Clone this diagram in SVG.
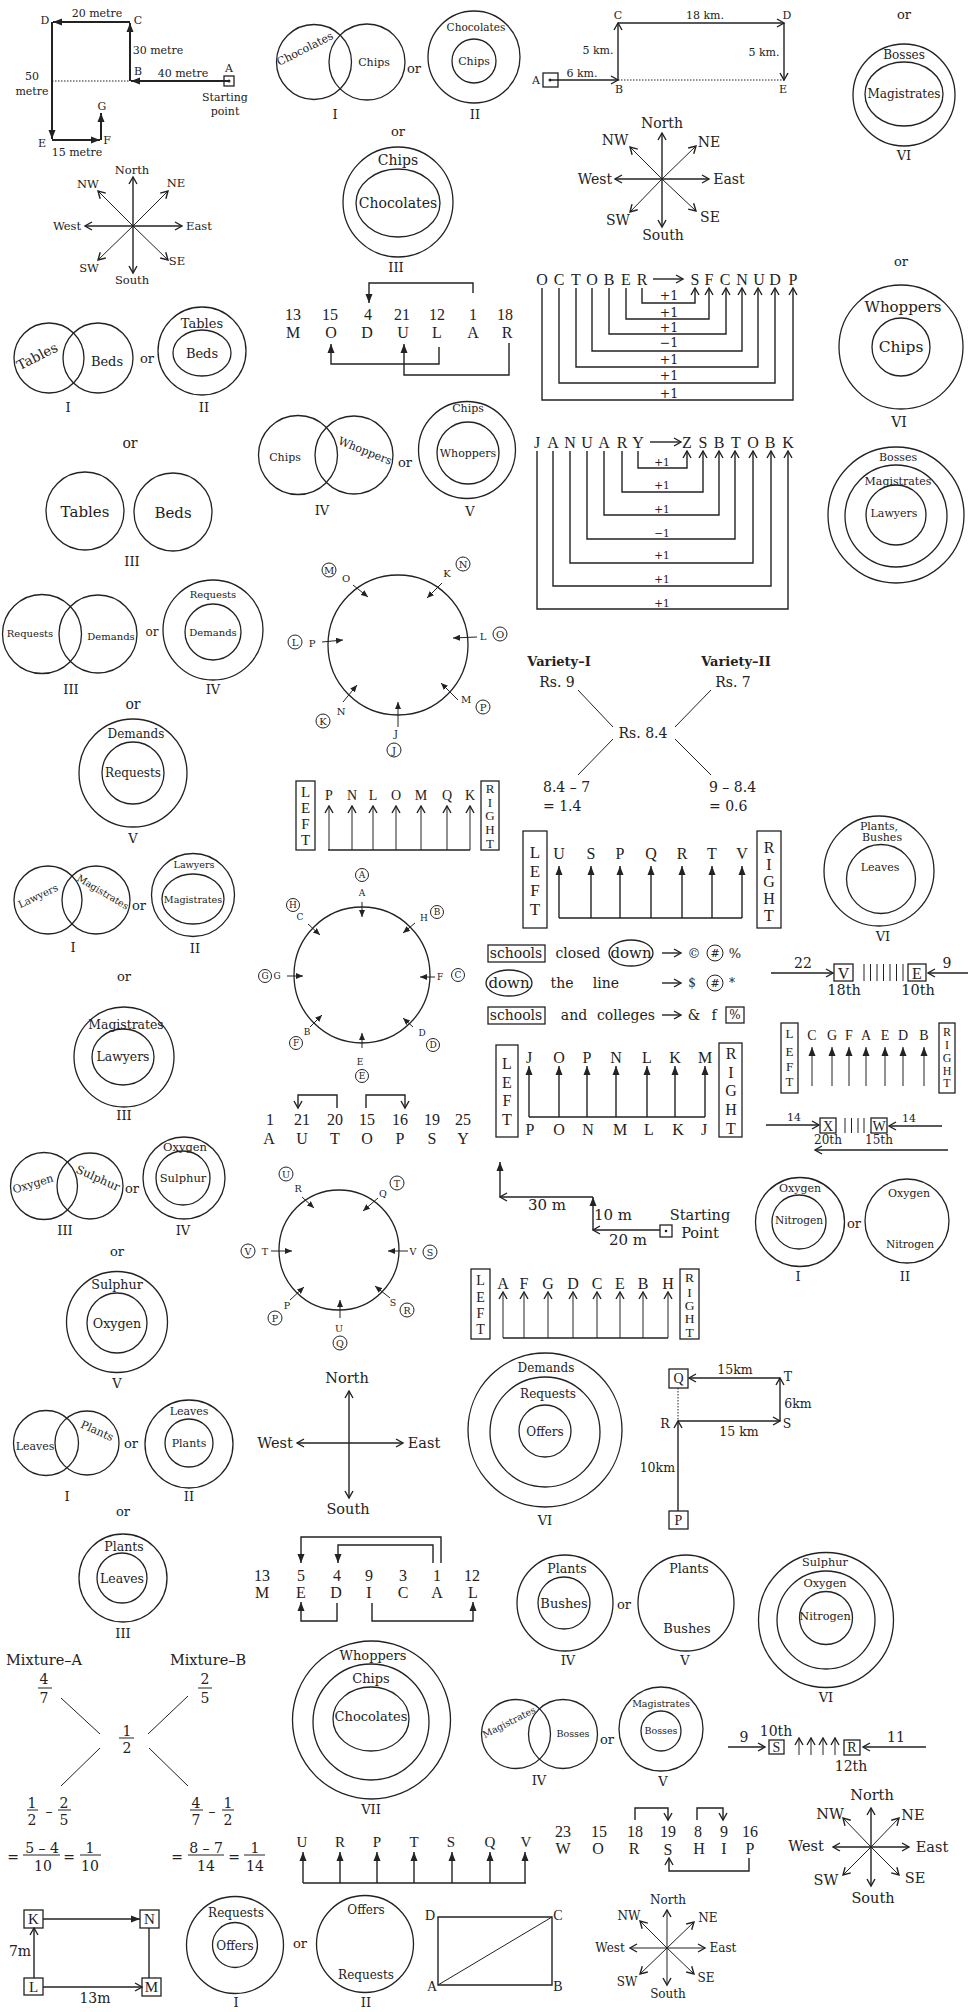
<svg xmlns="http://www.w3.org/2000/svg" width="976" height="2012" viewBox="0 0 976 2012">
<defs>
<style>
text{font-family:"DejaVu Serif",serif;text-anchor:middle;dominant-baseline:central;fill:#222}
.lb{font-family:"Liberation Serif","DejaVu Serif",serif}
.st{text-anchor:start}
.en{text-anchor:end}
.b{font-weight:bold}
.c{fill:none;stroke:#222;stroke-width:1.3}
.cs{fill:none;stroke:#222;stroke-width:1}
.ln{fill:none;stroke:#222;stroke-width:1.4}
.tk{fill:none;stroke:#222;stroke-width:2}
.tn{fill:none;stroke:#222;stroke-width:1}
.dt{fill:none;stroke:#222;stroke-width:1;stroke-dasharray:1.5 1.5}
.dot{fill:#222}
.fa{marker-end:url(#af)}
.fs{marker-end:url(#afs)}
.oa{marker-end:url(#ao)}
</style>
<marker id="af" markerUnits="userSpaceOnUse" markerWidth="10" markerHeight="8" refX="9" refY="4" orient="auto"><path d="M0,0.5 L9,4 L0,7.5 z" fill="#222"/></marker>
<marker id="afs" markerUnits="userSpaceOnUse" markerWidth="8" markerHeight="6" refX="7" refY="3" orient="auto"><path d="M0,0 L7,3 L0,6 z" fill="#222"/></marker>
<marker id="ao" markerUnits="userSpaceOnUse" markerWidth="10" markerHeight="10" refX="8.5" refY="5" orient="auto"><path d="M1.5,1 L8.5,5 L1.5,9" fill="none" stroke="#222" stroke-width="1.4"/></marker>
</defs>
<rect width="976" height="2012" fill="#fff"/>

<g id="route1" font-size="11">
 <g id="route1-connectors">
  <path class="tk fa" d="M229,81 H131"/>
  <path class="tk fa" d="M130,81 V23"/>
  <path class="tk fa" d="M130,22 H53"/>
  <path class="tk fa" d="M52,22 V139"/>
  <path class="tk fa" d="M52,140 H100"/>
  <path class="tk fa" d="M101,140 V113"/>
  <path class="dt" d="M52,81 H130"/>
 </g>
 <rect class="c" x="224" y="76" width="10" height="10"/>
 <circle class="dot" cx="229" cy="81" r="1.5"/>
 <text x="45" y="20">D</text><text x="97" y="13">20 metre</text><text x="138" y="20">C</text>
 <text x="158" y="50">30 metre</text><text x="138" y="71">B</text><text x="183" y="73">40 metre</text>
 <text x="229" y="68">A</text><text x="225" y="97">Starting</text><text x="225" y="111">point</text>
 <text x="32" y="76">50</text><text x="32" y="91">metre</text>
 <text x="42" y="143">E</text><text x="107" y="140">F</text><text x="102" y="106">G</text><text x="77" y="152">15 metre</text>
</g>

<g id="compass1" font-size="11.5">
 <g id="compass1-connectors">
  <path class="ln oa" d="M133,226 V177"/><path class="ln oa" d="M133,226 V273"/>
  <path class="ln oa" d="M133,226 H85"/><path class="ln oa" d="M133,226 H182"/>
  <path class="tn oa" d="M133,226 L98,191"/><path class="tn oa" d="M133,226 L168,191"/>
  <path class="tn oa" d="M133,226 L98,260"/><path class="tn oa" d="M133,226 L168,260"/>
 </g>
 <text x="132" y="170">North</text><text x="132" y="280">South</text><text x="67" y="226">West</text><text x="199" y="226">East</text>
 <text x="88" y="184">NW</text><text x="176" y="183">NE</text><text x="89" y="268">SW</text><text x="177" y="261">SE</text>
</g>

<g id="tables-beds-1" font-size="13">
 <circle class="c" cx="49" cy="358" r="35"/><circle class="c" cx="98" cy="358" r="35"/>
 <text x="37" y="356" font-size="13.5" transform="rotate(-27 37 356)">Tables</text>
 <text x="107" y="361">Beds</text><text x="147" y="358">or</text>
 <circle class="c" cx="202" cy="351" r="44"/><ellipse class="c" cx="202" cy="353" rx="29" ry="23"/>
 <text x="202" y="323">Tables</text><text x="202" y="353">Beds</text>
 <text x="68" y="407">I</text><text x="204" y="407">II</text>
 <text x="130" y="443" font-size="14">or</text>
</g>
<g id="tables-beds-3" font-size="15">
 <circle class="c" cx="85" cy="511" r="39"/><circle class="c" cx="173" cy="512" r="39"/>
 <text x="85" y="512">Tables</text><text x="173" y="513">Beds</text>
 <text x="132" y="561" font-size="13">III</text>
</g>

<g id="choc-chips-1" font-size="11">
 <circle class="c" cx="314" cy="62" r="37.5"/><circle class="c" cx="367" cy="62" r="38"/>
 <text x="305" y="49" transform="rotate(-27 305 49)">Chocolates</text>
 <text x="374" y="62">Chips</text><text x="414" y="68" font-size="13">or</text>
 <circle class="c" cx="474" cy="57" r="46"/><circle class="c" cx="474" cy="61" r="22"/>
 <text x="476" y="27" font-size="10.5">Chocolates</text><text x="474" y="61">Chips</text>
 <text x="335" y="114" font-size="13">I</text><text x="475" y="114" font-size="13">II</text>
 <text x="398" y="131" font-size="13">or</text>
</g>
<g id="choc-chips-3" font-size="14">
 <circle class="c" cx="398" cy="202" r="55"/><ellipse class="c" cx="398" cy="203" rx="42" ry="34"/>
 <text x="398" y="160">Chips</text><text x="398" y="203">Chocolates</text>
 <text x="396" y="267" font-size="13">III</text>
</g>

<g id="numrow1" class="lb" font-size="16">
 <g id="numrow1-connectors">
  <path class="ln fa" d="M473,293 V283 H369 V303"/>
  <path class="ln fa" d="M439,347 V364 H331 V344"/>
  <path class="ln fa" d="M509,343 V375 H404 V344"/>
 </g>
 <text class="lb" x="293" y="314">13</text><text class="lb" x="293" y="332">M</text>
 <text class="lb" x="330" y="314">15</text><text class="lb" x="331" y="332">O</text>
 <text class="lb" x="368" y="314">4</text><text class="lb" x="367" y="332">D</text>
 <text class="lb" x="402" y="314">21</text><text class="lb" x="403" y="332">U</text>
 <text class="lb" x="437" y="314">12</text><text class="lb" x="437" y="332">L</text>
 <text class="lb" x="473" y="314">1</text><text class="lb" x="473" y="332">A</text>
 <text class="lb" x="505" y="314">18</text><text class="lb" x="507" y="332">R</text>
</g>

<g id="chips-whoppers" font-size="11">
 <circle class="c" cx="298" cy="455" r="39.5"/><circle class="c" cx="354" cy="455" r="39"/>
 <text x="285" y="457">Chips</text>
 <text x="365" y="451" transform="rotate(22 365 451)">Whoppers</text>
 <text x="405" y="462" font-size="13">or</text>
 <circle class="c" cx="467" cy="450" r="48.5"/><circle class="c" cx="468" cy="453" r="31"/>
 <text x="468" y="408">Chips</text><text x="468" y="453">Whoppers</text>
 <text x="322" y="510" font-size="13">IV</text><text x="470" y="511" font-size="13">V</text>
</g>

<g id="route2" font-size="11">
 <g id="route2-connectors">
  <path class="ln oa" d="M550,80 H618"/><path class="ln oa" d="M618,80 V23"/>
  <path class="ln oa" d="M618,23 H784"/><path class="ln oa" d="M784,23 V80"/>
  <path class="dt" d="M618,80 H784"/>
 </g>
 <rect class="c" x="543" y="73" width="15" height="14"/><circle class="dot" cx="550" cy="80" r="1.5"/>
 <text x="536" y="80">A</text><text x="582" y="73">6 km.</text><text x="619" y="89">B</text>
 <text x="618" y="15">C</text><text x="598" y="50">5 km.</text><text x="705" y="15">18 km.</text>
 <text x="787" y="15">D</text><text x="764" y="52">5 km.</text><text x="783" y="89">E</text>
</g>

<g id="compass2" font-size="14">
 <g id="compass2-connectors">
  <path class="ln oa" d="M662,179 V133"/><path class="ln oa" d="M662,179 V227"/>
  <path class="ln oa" d="M662,179 H615"/><path class="ln oa" d="M662,179 H709"/>
  <path class="tn oa" d="M662,179 L630,147"/><path class="tn oa" d="M662,179 L696,146"/>
  <path class="tn oa" d="M662,179 L630,212"/><path class="tn oa" d="M662,179 L696,211"/>
 </g>
 <text x="662" y="123">North</text><text x="663" y="235">South</text><text x="595" y="179">West</text><text x="729" y="179">East</text>
 <text x="615" y="140">NW</text><text x="709" y="142">NE</text><text x="618" y="220">SW</text><text x="710" y="217">SE</text>
</g>

<g id="october" font-size="16">
 <g id="october-connectors">
  <path class="ln oa" d="M653,279 H683"/>
  <path class="ln oa" d="M642,288 V303 H695 V288"/>
  <path class="ln oa" d="M626,288 V319 H709 V288"/>
  <path class="ln oa" d="M609,288 V334 H726 V288"/>
  <path class="ln oa" d="M592,288 V351 H742 V288"/>
  <path class="ln oa" d="M576,288 V367 H758 V288"/>
  <path class="ln oa" d="M559,288 V383 H775 V288"/>
  <path class="ln oa" d="M542,288 V400 H793 V288"/>
 </g>
 <text class="lb" x="542" y="279">O</text><text class="lb" x="559" y="279">C</text><text class="lb" x="576" y="279">T</text><text class="lb" x="592" y="279">O</text><text class="lb" x="609" y="279">B</text><text class="lb" x="626" y="279">E</text><text class="lb" x="642" y="279">R</text>
 <text class="lb" x="695" y="279">S</text><text class="lb" x="709" y="279">F</text><text class="lb" x="725" y="279">C</text><text class="lb" x="742" y="279">N</text><text class="lb" x="759" y="279">U</text><text class="lb" x="775" y="279">D</text><text class="lb" x="793" y="279">P</text>
 <g font-size="12.5"><text x="669" y="295">+1</text><text x="669" y="312">+1</text><text x="669" y="327">+1</text><text x="669" y="342">−1</text><text x="669" y="359">+1</text><text x="669" y="375">+1</text><text x="669" y="393">+1</text></g>
</g>

<g id="january" font-size="16">
 <g id="january-connectors">
  <path class="ln oa" d="M650,442 H681"/>
  <path class="ln oa" d="M638,451 V468 H687 V451"/>
  <path class="ln oa" d="M622,451 V492 H703 V451"/>
  <path class="ln oa" d="M604,451 V515 H719 V451"/>
  <path class="ln oa" d="M587,451 V539 H735 V451"/>
  <path class="ln oa" d="M570,451 V563 H753 V451"/>
  <path class="ln oa" d="M553,451 V586 H771 V451"/>
  <path class="ln oa" d="M537,451 V609 H788 V451"/>
 </g>
 <text class="lb" x="537" y="442">J</text><text class="lb" x="553" y="442">A</text><text class="lb" x="570" y="442">N</text><text class="lb" x="587" y="442">U</text><text class="lb" x="604" y="442">A</text><text class="lb" x="622" y="442">R</text><text class="lb" x="638" y="442">Y</text>
 <text class="lb" x="687" y="442">Z</text><text class="lb" x="703" y="442">S</text><text class="lb" x="719" y="442">B</text><text class="lb" x="736" y="442">T</text><text class="lb" x="753" y="442">O</text><text class="lb" x="770" y="442">B</text><text class="lb" x="788" y="442">K</text>
 <g font-size="10.5"><text x="662" y="462">+1</text><text x="662" y="485">+1</text><text x="662" y="509">+1</text><text x="662" y="533">−1</text><text x="662" y="555">+1</text><text x="662" y="579">+1</text><text x="662" y="603">+1</text></g>
</g>

<g id="bosses-mag-6" font-size="12">
 <text x="904" y="14" font-size="13">or</text>
 <circle class="c" cx="904" cy="95" r="51"/><ellipse class="c" cx="904" cy="94" rx="39" ry="32"/>
 <text x="904" y="55">Bosses</text><text x="904" y="94">Magistrates</text>
 <text x="904" y="155" font-size="13">VI</text>
 <text x="901" y="261" font-size="13">or</text>
</g>
<g id="whoppers-chips-6">
 <circle class="c" cx="901" cy="347" r="62"/><circle class="c" cx="901" cy="347" r="29"/>
 <text x="903" y="307" font-size="15">Whoppers</text><text x="901" y="347" font-size="15.5">Chips</text>
 <text x="899" y="422" font-size="14">VI</text>
</g>
<g id="bml" font-size="11">
 <circle class="c" cx="896" cy="515" r="68"/><circle class="c" cx="896" cy="516" r="51"/><circle class="c" cx="896" cy="515" r="30"/>
 <text x="898" y="457">Bosses</text><text x="898" y="481">Magistrates</text><text x="894" y="513">Lawyers</text>
</g>

<g id="req-dem" font-size="10">
 <circle class="c" cx="42" cy="634" r="39.5"/><circle class="c" cx="98" cy="634" r="39"/>
 <text x="30" y="633">Requests</text><text x="111" y="636">Demands</text><text x="152" y="632" font-size="12">or</text>
 <circle class="c" cx="213" cy="630" r="50"/><circle class="c" cx="213" cy="632" r="28"/>
 <text x="213" y="594">Requests</text><text x="213" y="632">Demands</text>
 <text x="71" y="689" font-size="13">III</text><text x="213" y="689" font-size="13">IV</text>
 <text x="133" y="704" font-size="14">or</text>
</g>
<g id="dem-req-5" font-size="12">
 <circle class="c" cx="133" cy="773" r="54"/><circle class="c" cx="133" cy="773" r="31"/>
 <text x="136" y="734">Demands</text><text x="133" y="773">Requests</text>
 <text x="133" y="838" font-size="13">V</text>
</g>
<g id="law-mag" font-size="9.6">
 <circle class="c" cx="48" cy="900" r="34"/><circle class="c" cx="96" cy="900" r="34"/>
 <text x="38" y="896" font-size="10" transform="rotate(-25 38 896)">Lawyers</text>
 <text x="103" y="892" transform="rotate(31 103 892)">Magistrates</text>
 <text x="139" y="905" font-size="13">or</text>
 <circle class="c" cx="193" cy="895" r="41.5"/><ellipse class="c" cx="193" cy="899" rx="31" ry="25"/>
 <text x="194" y="864">Lawyers</text><text x="193" y="899">Magistrates</text>
 <text x="73" y="947" font-size="13">I</text><text x="195" y="948" font-size="13">II</text>
 <text x="124" y="976" font-size="13">or</text>
</g>
<g id="mag-law-3" font-size="12.4">
 <circle class="c" cx="124" cy="1057" r="50"/><ellipse class="c" cx="123" cy="1057" rx="31" ry="28"/>
 <text x="126" y="1024">Magistrates</text><text x="123" y="1056">Lawyers</text>
 <text x="124" y="1115" font-size="13">III</text>
</g>

<g id="circle-puzzle1" font-size="10">
 <circle class="c" cx="398" cy="645" r="70"/>
 <g id="cp1-connectors">
  <path class="tn fs" d="M353,585 L368,597"/><path class="tn fs" d="M442,583 L427,598"/>
  <path class="tn fs" d="M477,637 L453,638"/><path class="tn fs" d="M322,642 L343,640"/>
  <path class="tn fs" d="M458,700 L441,683"/><path class="tn fs" d="M343,702 L357,685"/>
  <path class="tn fs" d="M398,727 L398,702"/>
 </g>
 <circle class="cs" cx="329" cy="570" r="7"/><text x="329" y="570">M</text><text x="346" y="578">O</text>
 <circle class="cs" cx="463" cy="564" r="7"/><text x="463" y="564">N</text><text x="447" y="573">K</text>
 <circle class="cs" cx="500" cy="634" r="7"/><text x="500" y="634">O</text><text x="483" y="636">L</text>
 <circle class="cs" cx="295" cy="642" r="7"/><text x="295" y="642">L</text><text x="312" y="643">P</text>
 <circle class="cs" cx="483" cy="707" r="7"/><text x="483" y="707">P</text><text x="466" y="699">M</text>
 <circle class="cs" cx="323" cy="721" r="7"/><text x="323" y="721">K</text><text x="341" y="711">N</text>
 <circle class="cs" cx="394" cy="750" r="7"/><text x="394" y="750">J</text><text x="396" y="733">J</text>
</g>

<g id="lr1" font-size="14">
 <g id="lr1-connectors">
  <path class="ln" d="M328,850 H470"/>
  <path class="tn oa" d="M329,850 V806"/><path class="tn oa" d="M352,850 V806"/><path class="tn oa" d="M373,850 V806"/><path class="tn oa" d="M396,850 V806"/><path class="tn oa" d="M421,850 V806"/><path class="tn oa" d="M447,850 V806"/><path class="tn oa" d="M470,850 V806"/>
 </g>
 <rect class="c" x="296" y="781" width="19" height="69"/>
 <g font-size="15"><text class="lb" x="305.5" y="792">L</text><text class="lb" x="305.5" y="808">E</text><text class="lb" x="305.5" y="824">F</text><text class="lb" x="305.5" y="840">T</text></g>
 <text class="lb" x="329" y="795">P</text><text class="lb" x="352" y="795">N</text><text class="lb" x="373" y="795">L</text><text class="lb" x="396" y="795">O</text><text class="lb" x="421" y="795">M</text><text class="lb" x="447" y="795">Q</text><text class="lb" x="470" y="795">K</text>
 <rect class="c" x="481" y="781" width="18" height="69"/>
 <g font-size="13"><text class="lb" x="490" y="788">R</text><text class="lb" x="490" y="802">I</text><text class="lb" x="490" y="815">G</text><text class="lb" x="490" y="829">H</text><text class="lb" x="490" y="843">T</text></g>
</g>

<g id="circle-puzzle2" font-size="9">
 <circle class="c" cx="362" cy="975" r="68"/>
 <g id="cp2-connectors">
  <path class="tn fs" d="M362,902 V917"/><path class="tn fs" d="M415,923 L403,933"/>
  <path class="tn fs" d="M435,977 H420"/><path class="tn fs" d="M308,924 L320,935"/>
  <path class="tn fs" d="M287,976 H303"/><path class="tn fs" d="M310,1027 L322,1015"/>
  <path class="tn fs" d="M413,1027 L403,1018"/><path class="tn fs" d="M362,1048 V1033"/>
 </g>
 <circle class="cs" cx="362" cy="875" r="6.5"/><text x="362" y="875">A</text><text x="362" y="893">A</text>
 <circle class="cs" cx="437" cy="912" r="6.5"/><text x="437" y="912">B</text><text x="424" y="918">H</text>
 <circle class="cs" cx="458" cy="975" r="6.5"/><text x="458" y="975">C</text><text x="440" y="977">F</text>
 <circle class="cs" cx="293" cy="905" r="6.5"/><text x="293" y="905">H</text><text x="300" y="917">C</text>
 <circle class="cs" cx="265" cy="976" r="6.5"/><text x="265" y="976">G</text><text x="277" y="976">G</text>
 <circle class="cs" cx="296" cy="1043" r="6.5"/><text x="296" y="1043">F</text><text x="307" y="1032">B</text>
 <circle class="cs" cx="433" cy="1045" r="6.5"/><text x="433" y="1045">D</text><text x="422" y="1033">D</text>
 <circle class="cs" cx="362" cy="1076" r="6.5"/><text x="362" y="1076">E</text><text x="360" y="1062">E</text>
</g>

<g id="numrow2" font-size="16">
 <g id="numrow2-connectors">
  <path class="ln oa" d="M337,1108 V1095 H298 V1108"/>
  <path class="ln oa" d="M366,1108 V1095 H405 V1108"/>
 </g>
 <text class="lb" x="270" y="1119">1</text><text class="lb" x="269" y="1138">A</text>
 <text class="lb" x="302" y="1119">21</text><text class="lb" x="302" y="1138">U</text>
 <text class="lb" x="335" y="1119">20</text><text class="lb" x="335" y="1138">T</text>
 <text class="lb" x="367" y="1119">15</text><text class="lb" x="367" y="1138">O</text>
 <text class="lb" x="400" y="1119">16</text><text class="lb" x="400" y="1138">P</text>
 <text class="lb" x="432" y="1119">19</text><text class="lb" x="432" y="1138">S</text>
 <text class="lb" x="463" y="1119">25</text><text class="lb" x="463" y="1138">Y</text>
</g>

<g id="circle-puzzle3" font-size="9.5">
 <circle class="c" cx="339" cy="1250" r="60"/>
 <g id="cp3-connectors">
  <path class="tn fs" d="M302,1197 L314,1208"/><path class="tn fs" d="M378,1198 L363,1211"/>
  <path class="tn fs" d="M271,1251 H292"/><path class="tn fs" d="M408,1251 H388"/>
  <path class="tn fs" d="M290,1300 L304,1287"/><path class="tn fs" d="M390,1298 L375,1286"/>
  <path class="tn fs" d="M340,1318 V1300"/>
 </g>
 <circle class="cs" cx="286" cy="1174" r="7"/><text x="286" y="1174">U</text><text x="298" y="1188">R</text>
 <circle class="cs" cx="397" cy="1183" r="7"/><text x="397" y="1183">T</text><text x="383" y="1193">Q</text>
 <circle class="cs" cx="248" cy="1251" r="7"/><text x="248" y="1251">V</text><text x="265" y="1251">T</text>
 <circle class="cs" cx="430" cy="1252" r="7"/><text x="430" y="1252">S</text><text x="413" y="1251">V</text>
 <circle class="cs" cx="275" cy="1318" r="7"/><text x="275" y="1318">P</text><text x="287" y="1305">P</text>
 <circle class="cs" cx="407" cy="1310" r="7"/><text x="407" y="1310">R</text><text x="393" y="1302">S</text>
 <circle class="cs" cx="340" cy="1343" r="7"/><text x="340" y="1343">Q</text><text x="339" y="1328">U</text>
</g>

<g id="oxy-sul" font-size="11.5">
 <circle class="c" cx="44" cy="1186" r="33.5"/><circle class="c" cx="90" cy="1186" r="33"/>
 <text x="33" y="1184" font-size="11" transform="rotate(-17 33 1184)">Oxygen</text>
 <text x="98" y="1178" transform="rotate(24 98 1178)">Sulphur</text>
 <text x="132" y="1188" font-size="13">or</text>
 <circle class="c" cx="184" cy="1178" r="41"/><circle class="c" cx="183" cy="1178" r="27"/>
 <text x="185" y="1147">Oxygen</text><text x="183" y="1178">Sulphur</text>
 <text x="65" y="1230" font-size="13">III</text><text x="183" y="1230" font-size="13">IV</text>
 <text x="117" y="1251" font-size="13">or</text>
</g>
<g id="sul-oxy-5" font-size="12.7">
 <circle class="c" cx="117" cy="1322" r="50.5"/><circle class="c" cx="117" cy="1323" r="30"/>
 <text x="117" y="1284">Sulphur</text><text x="117" y="1323">Oxygen</text>
 <text x="117" y="1383" font-size="13">V</text>
</g>
<g id="leaves-plants" font-size="11">
 <circle class="c" cx="46" cy="1443" r="32.5"/><circle class="c" cx="87" cy="1443" r="32"/>
 <text x="35" y="1446">Leaves</text>
 <text x="97" y="1431" transform="rotate(24 97 1431)">Plants</text>
 <text x="131" y="1443" font-size="13">or</text>
 <circle class="c" cx="189" cy="1444" r="44"/><circle class="c" cx="189" cy="1443" r="24"/>
 <text x="189" y="1411">Leaves</text><text x="189" y="1443">Plants</text>
 <text x="67" y="1496" font-size="13">I</text><text x="189" y="1496" font-size="13">II</text>
 <text x="123" y="1511" font-size="13">or</text>
</g>
<g id="plants-leaves-3" font-size="12.5">
 <circle class="c" cx="123" cy="1578" r="44"/><circle class="c" cx="122" cy="1578" r="25"/>
 <text x="124" y="1546">Plants</text><text x="122" y="1578">Leaves</text>
 <text x="123" y="1633" font-size="13">III</text>
</g>

<g id="compass3" font-size="14.5">
 <g id="compass3-connectors">
  <path class="ln oa" d="M349,1443 V1391"/><path class="ln oa" d="M349,1443 V1498"/>
  <path class="ln oa" d="M349,1443 H297"/><path class="ln oa" d="M349,1443 H403"/>
 </g>
 <text x="347" y="1378">North</text><text x="348" y="1509">South</text><text x="275" y="1443">West</text><text x="424" y="1443">East</text>
</g>

<g id="numrow3" font-size="16">
 <g id="numrow3-connectors">
  <path class="ln fa" d="M441,1563 V1537 H301 V1563"/>
  <path class="ln fa" d="M433,1563 V1545 H338 V1563"/>
  <path class="ln fa" d="M337,1603 V1621 H301 V1602"/>
  <path class="ln fa" d="M372,1603 V1621 H473 V1602"/>
 </g>
 <text class="lb" x="262" y="1575">13</text><text class="lb" x="262" y="1592">M</text>
 <text class="lb" x="301" y="1575">5</text><text class="lb" x="301" y="1592">E</text>
 <text class="lb" x="337" y="1575">4</text><text class="lb" x="336" y="1592">D</text>
 <text class="lb" x="369" y="1575">9</text><text class="lb" x="369" y="1592">I</text>
 <text class="lb" x="403" y="1575">3</text><text class="lb" x="403" y="1592">C</text>
 <text class="lb" x="437" y="1575">1</text><text class="lb" x="437" y="1592">A</text>
 <text class="lb" x="472" y="1575">12</text><text class="lb" x="473" y="1592">L</text>
</g>

<g id="alligation" font-size="14">
 <g id="alligation-connectors">
  <path class="tn" d="M578,690 L613,727"/><path class="tn" d="M613,739 L578,775"/>
  <path class="tn" d="M711,690 L675,727"/><path class="tn" d="M675,739 L711,775"/>
 </g>
 <text class="b" x="559" y="661" font-size="13">Variety–I</text><text x="557" y="682">Rs. 9</text>
 <text x="643" y="733">Rs. 8.4</text>
 <text class="st" x="543" y="787">8.4 – 7</text><text class="st" x="543" y="806">= 1.4</text>
 <text class="b" x="736" y="661" font-size="13">Variety–II</text><text x="733" y="682">Rs. 7</text>
 <text class="st" x="709" y="787">9 – 8.4</text><text class="st" x="709" y="806">= 0.6</text>
</g>

<g id="lr2" font-size="16">
 <g id="lr2-connectors">
  <path class="ln" d="M559,918 H742"/>
  <path class="ln fa" d="M559,918 V866"/><path class="ln fa" d="M591,918 V866"/><path class="ln fa" d="M620,918 V866"/><path class="ln fa" d="M651,918 V866"/><path class="ln fa" d="M682,918 V866"/><path class="ln fa" d="M712,918 V866"/><path class="ln fa" d="M742,918 V866"/>
 </g>
 <rect class="c" x="523" y="831" width="24" height="97"/>
 <g font-size="17"><text class="lb" x="535" y="852">L</text><text class="lb" x="535" y="871">E</text><text class="lb" x="535" y="890">F</text><text class="lb" x="535" y="909">T</text></g>
 <text class="lb" x="559" y="853">U</text><text class="lb" x="591" y="853">S</text><text class="lb" x="620" y="853">P</text><text class="lb" x="651" y="853">Q</text><text class="lb" x="682" y="853">R</text><text class="lb" x="712" y="853">T</text><text class="lb" x="742" y="853">V</text>
 <rect class="c" x="757" y="831" width="24" height="97"/>
 <text class="lb" x="769" y="847">R</text><text class="lb" x="769" y="864">I</text><text class="lb" x="769" y="881">G</text><text class="lb" x="769" y="898">H</text><text class="lb" x="769" y="915">T</text>
</g>

<g id="schools" font-size="14">
 <g id="schools-connectors">
  <path class="ln oa" d="M662,953 H681"/><path class="ln oa" d="M662,983 H681"/><path class="ln oa" d="M662,1015 H681"/>
 </g>
 <rect class="c" x="488" y="945" width="57" height="17"/><text x="516" y="953">schools</text>
 <text x="578" y="953">closed</text>
 <ellipse class="c" cx="631" cy="953" rx="22" ry="13"/><text x="631" y="953" font-size="15">down</text>
 <text x="694" y="953" font-size="13">©</text>
 <circle class="cs" cx="715" cy="953" r="8"/><text x="715" y="953" font-size="11">#</text>
 <text x="735" y="953" font-size="13">%</text>
 <ellipse class="c" cx="509" cy="983" rx="23" ry="13"/><text x="509" y="983" font-size="15">down</text>
 <text x="562" y="983">the</text><text x="606" y="983">line</text>
 <text x="692" y="983" font-size="12">$</text>
 <circle class="cs" cx="715" cy="983" r="8"/><text x="715" y="983" font-size="11">#</text>
 <text x="732" y="983" font-size="12">*</text>
 <rect class="c" x="488" y="1007" width="57" height="17"/><text x="516" y="1015">schools</text>
 <text x="574" y="1015">and</text><text x="626" y="1015">colleges</text>
 <text x="694" y="1015">&amp;</text><text x="714" y="1015">f</text>
 <rect class="c" x="726" y="1007" width="18" height="16"/><text x="735" y="1015" font-size="12">%</text>
</g>

<g id="queue1" font-size="14">
 <g id="queue1-connectors">
  <path class="ln oa" d="M771,973 H833"/><path class="ln oa" d="M968,973 H928"/>
  <path class="tn" d="M864,964 V981 M870.5,964 V981 M877,964 V981 M883.5,964 V981 M890,964 V981 M896.5,964 V981 M903,964 V981"/>
 </g>
 <text x="803" y="963">22</text>
 <rect class="c" x="834" y="964" width="19" height="17"/><text class="lb" x="843.5" y="973" font-size="16">V</text>
 <rect class="c" x="908" y="964" width="18" height="17"/><text class="lb" x="917" y="973" font-size="16">E</text>
 <text x="947" y="963">9</text>
 <text x="844" y="990" font-size="14.5">18th</text><text x="918" y="990" font-size="14.5">10th</text>
</g>

<g id="plants-leaves-6" font-size="11">
 <circle class="c" cx="879" cy="871" r="55"/><circle class="c" cx="881" cy="879" r="34.5"/>
 <text x="879" y="826">Plants,</text><text x="882" y="837">Bushes</text><text x="880" y="867">Leaves</text>
 <text x="883" y="936" font-size="13">VI</text>
</g>

<g id="lr3" font-size="14">
 <g id="lr3-connectors">
  <path class="tn fa" d="M812,1086 V1047"/><path class="tn fa" d="M832,1086 V1047"/><path class="tn fa" d="M849,1086 V1047"/><path class="tn fa" d="M866,1086 V1047"/><path class="tn fa" d="M885,1086 V1047"/><path class="tn fa" d="M903,1086 V1047"/><path class="tn fa" d="M924,1086 V1047"/>
 </g>
 <rect class="c" x="781" y="1023" width="17" height="70"/>
 <g font-size="13"><text class="lb" x="789.5" y="1033">L</text><text class="lb" x="789.5" y="1051">E</text><text class="lb" x="789.5" y="1066">F</text><text class="lb" x="789.5" y="1081">T</text></g>
 <text class="lb" x="812" y="1035">C</text><text class="lb" x="832" y="1035">G</text><text class="lb" x="849" y="1035">F</text><text class="lb" x="866" y="1035">A</text><text class="lb" x="885" y="1035">E</text><text class="lb" x="903" y="1035">D</text><text class="lb" x="924" y="1035">B</text>
 <rect class="c" x="939" y="1023" width="16" height="70"/>
 <g font-size="12"><text class="lb" x="947" y="1032">R</text><text class="lb" x="947" y="1045">I</text><text class="lb" x="947" y="1058">G</text><text class="lb" x="947" y="1071">H</text><text class="lb" x="947" y="1083">T</text></g>
</g>

<g id="queue2" font-size="11">
 <g id="queue2-connectors">
  <path class="ln oa" d="M766,1125 H819"/><path class="ln oa" d="M942,1126 H889"/><path class="ln oa" d="M948,1150 H815"/>
  <path class="tn" d="M845,1118 V1133 M851.5,1118 V1133 M858,1118 V1133 M864,1118 V1133"/>
 </g>
 <text x="794" y="1117">14</text>
 <rect class="c" x="820" y="1118" width="16" height="15"/><text class="lb" x="828" y="1126" font-size="14">X</text>
 <rect class="c" x="871" y="1118" width="16" height="15"/><text class="lb" x="879" y="1126" font-size="14">W</text>
 <text x="909" y="1118">14</text>
 <text x="828" y="1140" font-size="12">20th</text><text x="879" y="1140" font-size="12">15th</text>
</g>

<g id="lr4" font-size="16">
 <g id="lr4-connectors">
  <path class="ln" d="M529,1117 H705"/>
  <path class="ln fa" d="M529,1117 V1066"/><path class="ln fa" d="M559,1117 V1066"/><path class="ln fa" d="M587,1117 V1066"/><path class="ln fa" d="M616,1117 V1066"/><path class="ln fa" d="M647,1117 V1066"/><path class="ln fa" d="M675,1117 V1066"/><path class="ln fa" d="M705,1117 V1066"/>
 </g>
 <rect class="c" x="496" y="1045" width="22" height="92"/>
 <text class="lb" x="507" y="1063">L</text><text class="lb" x="507" y="1082">E</text><text class="lb" x="507" y="1100">F</text><text class="lb" x="507" y="1119">T</text>
 <text class="lb" x="529" y="1057">J</text><text class="lb" x="559" y="1057">O</text><text class="lb" x="587" y="1057">P</text><text class="lb" x="616" y="1057">N</text><text class="lb" x="647" y="1057">L</text><text class="lb" x="675" y="1057">K</text><text class="lb" x="705" y="1057">M</text>
 <text class="lb" x="530" y="1129">P</text><text class="lb" x="559" y="1129">O</text><text class="lb" x="588" y="1129">N</text><text class="lb" x="620" y="1129">M</text><text class="lb" x="649" y="1129">L</text><text class="lb" x="678" y="1129">K</text><text class="lb" x="704" y="1129">J</text>
 <rect class="c" x="719" y="1043" width="23" height="94"/>
 <text class="lb" x="731" y="1053">R</text><text class="lb" x="731" y="1072">I</text><text class="lb" x="731" y="1090">G</text><text class="lb" x="731" y="1109">H</text><text class="lb" x="731" y="1128">T</text>
</g>

<g id="route3" font-size="15">
 <g id="route3-connectors">
  <path class="ln oa" d="M660,1230 H593"/><path class="ln fa" d="M593,1230 V1197"/>
  <path class="ln oa" d="M593,1197 H500"/><path class="ln fa" d="M500,1197 V1162"/>
 </g>
 <rect class="c" x="660" y="1225" width="12" height="12"/><circle class="dot" cx="666" cy="1231" r="1.3"/>
 <text x="700" y="1215" font-size="14.5">Starting</text><text x="700" y="1233" font-size="14.5">Point</text>
 <text x="628" y="1240">20 m</text><text x="613" y="1215">10 m</text><text x="547" y="1205">30 m</text>
</g>

<g id="lr5" font-size="16">
 <g id="lr5-connectors">
  <path class="ln" d="M503,1338 H668"/>
  <path class="tn oa" d="M503,1338 V1292"/><path class="tn oa" d="M524,1338 V1292"/><path class="tn oa" d="M548,1338 V1292"/><path class="tn oa" d="M573,1338 V1292"/><path class="tn oa" d="M597,1338 V1292"/><path class="tn oa" d="M620,1338 V1292"/><path class="tn oa" d="M643,1338 V1292"/><path class="tn oa" d="M668,1338 V1292"/>
 </g>
 <rect class="c" x="471" y="1269" width="19" height="70"/>
 <g font-size="14"><text class="lb" x="480.5" y="1280">L</text><text class="lb" x="480.5" y="1297">E</text><text class="lb" x="480.5" y="1313">F</text><text class="lb" x="480.5" y="1329">T</text></g>
 <text class="lb" x="503" y="1283">A</text><text class="lb" x="524" y="1283">F</text><text class="lb" x="548" y="1283">G</text><text class="lb" x="573" y="1283">D</text><text class="lb" x="597" y="1283">C</text><text class="lb" x="620" y="1283">E</text><text class="lb" x="643" y="1283">B</text><text class="lb" x="668" y="1283">H</text>
 <rect class="c" x="680" y="1269" width="19" height="70"/>
 <g font-size="13.5"><text class="lb" x="689.5" y="1277">R</text><text class="lb" x="689.5" y="1292">I</text><text class="lb" x="689.5" y="1305">G</text><text class="lb" x="689.5" y="1318">H</text><text class="lb" x="689.5" y="1332">T</text></g>
</g>

<g id="oxy-nit" font-size="11">
 <circle class="c" cx="800" cy="1222" r="44.5"/><circle class="c" cx="799" cy="1222" r="27"/>
 <text x="800" y="1188">Oxygen</text><text x="799" y="1220" font-size="10.6">Nitrogen</text>
 <text x="854" y="1223" font-size="13">or</text>
 <circle class="c" cx="907" cy="1221" r="42"/>
 <text x="909" y="1193">Oxygen</text><text x="910" y="1244" font-size="10.6">Nitrogen</text>
 <text x="798" y="1276" font-size="13">I</text><text x="905" y="1276" font-size="13">II</text>
</g>

<g id="dro-6" font-size="12">
 <circle class="c" cx="545" cy="1430" r="77"/><circle class="c" cx="545" cy="1432" r="55"/><circle class="c" cx="545" cy="1431" r="26"/>
 <text x="546" y="1368">Demands</text><text x="548" y="1394">Requests</text><text x="545" y="1432">Offers</text>
 <text x="545" y="1520" font-size="13">VI</text>
</g>

<g id="route4" font-size="12.5">
 <g id="route4-connectors">
  <path class="ln oa" d="M780,1378 H689"/><path class="ln oa" d="M780,1421 V1378"/>
  <path class="ln oa" d="M678,1421 H780"/><path class="ln oa" d="M678,1511 V1421"/>
  <path class="dt" d="M678,1388 V1421"/>
 </g>
 <rect class="c" x="669" y="1369" width="19" height="19"/><text class="lb" x="678.5" y="1378" font-size="14">Q</text>
 <text x="735" y="1369">15km</text><text x="788" y="1376">T</text><text x="798" y="1403">6km</text>
 <text x="787" y="1423">S</text><text x="739" y="1431">15 km</text><text x="665" y="1423">R</text>
 <text class="en" x="675" y="1467">10km</text>
 <rect class="c" x="669" y="1511" width="19" height="18"/><text class="lb" x="678.5" y="1520" font-size="14">P</text>
</g>

<g id="mixture" font-size="14">
 <g id="mixture-connectors">
  <path class="tn" d="M61,1698 L100,1734"/><path class="tn" d="M148,1734 L188,1696"/>
  <path class="tn" d="M100,1748 L61,1786"/><path class="tn" d="M149,1748 L188,1786"/>
 </g>
 <text x="44" y="1660" font-size="14.5">Mixture–A</text><text x="208" y="1660" font-size="14.5">Mixture–B</text>
 <g class="frac">
  <text x="44" y="1679">4</text><path class="tn" d="M38,1688 H52"/><text x="44" y="1698">7</text>
  <text x="205" y="1679">2</text><path class="tn" d="M198,1688 H212"/><text x="205" y="1698">5</text>
  <text x="127" y="1731">1</text><path class="tn" d="M119,1738 H134"/><text x="127" y="1748">2</text>
  <text x="32" y="1803">1</text><path class="tn" d="M27,1810 H38"/><text x="32" y="1820">2</text>
  <text x="49" y="1811">–</text>
  <text x="64" y="1803">2</text><path class="tn" d="M58,1810 H71"/><text x="64" y="1820">5</text>
  <text x="196" y="1803">4</text><path class="tn" d="M190,1810 H203"/><text x="196" y="1820">7</text>
  <text x="212" y="1811">–</text>
  <text x="228" y="1803">1</text><path class="tn" d="M222,1810 H234"/><text x="228" y="1820">2</text>
  <text x="13" y="1857">=</text><text x="42" y="1848">5 – 4</text><path class="tn" d="M23,1855 H60"/><text x="43" y="1866">10</text>
  <text x="69" y="1857">=</text><text x="90" y="1848">1</text><path class="tn" d="M80,1855 H101"/><text x="90" y="1866">10</text>
  <text x="177" y="1857">=</text><text x="206" y="1848">8 – 7</text><path class="tn" d="M188,1855 H224"/><text x="206" y="1866">14</text>
  <text x="234" y="1857">=</text><text x="255" y="1848">1</text><path class="tn" d="M244,1855 H265"/><text x="255" y="1866">14</text>
 </g>
</g>

<g id="knml" font-size="14">
 <g id="knml-connectors">
  <path class="ln fa" d="M43,1919 H140"/><path class="ln oa" d="M34,1978 V1928"/>
  <path class="ln oa" d="M43,1987 H142"/><path class="ln" d="M149,1928 V1978"/>
 </g>
 <rect class="c" x="24" y="1910" width="19" height="18"/><text class="lb" x="33.5" y="1919" font-size="15">K</text>
 <rect class="c" x="140" y="1910" width="19" height="18"/><text class="lb" x="149.5" y="1919" font-size="15">N</text>
 <rect class="c" x="24" y="1978" width="19" height="17"/><text class="lb" x="33.5" y="1986.5" font-size="15">L</text>
 <rect class="c" x="142" y="1978" width="19" height="18"/><text class="lb" x="151.5" y="1987" font-size="15">M</text>
 <text x="20" y="1951">7m</text><text x="95" y="1998">13m</text>
</g>

<g id="req-off-1" font-size="12">
 <circle class="c" cx="235" cy="1945" r="48.5"/><circle class="c" cx="235" cy="1945" r="22.5"/>
 <text x="236" y="1913">Requests</text><text x="235" y="1946">Offers</text>
 <text x="300" y="1943" font-size="13">or</text>
 <text x="236" y="2002" font-size="13">I</text>
</g>
<g id="off-req-2" font-size="12">
 <circle class="c" cx="365" cy="1944" r="48.5"/>
 <text x="366" y="1910">Offers</text><text x="366" y="1975">Requests</text>
 <text x="366" y="2002" font-size="13">II</text>
</g>

<g id="rect-dcba" font-size="14">
 <g id="dcba-connectors">
  <path class="ln" d="M438,1917 H552 V1985 H438 Z"/><path class="tn" d="M438,1985 L552,1917"/>
 </g>
 <text class="lb" x="430" y="1915">D</text><text class="lb" x="558" y="1915">C</text><text class="lb" x="432" y="1986">A</text><text class="lb" x="558" y="1986">B</text>
</g>

<g id="compass-small" font-size="12">
 <g id="compass-small-connectors">
  <path class="tn oa" d="M667,1948 V1910"/><path class="tn oa" d="M667,1948 V1985"/>
  <path class="tn oa" d="M667,1948 H630"/><path class="tn oa" d="M667,1948 H705"/>
  <path class="tn oa" d="M667,1948 L640,1921"/><path class="tn oa" d="M667,1948 L694,1922"/>
  <path class="tn oa" d="M667,1948 L640,1974"/><path class="tn oa" d="M667,1948 L694,1974"/>
 </g>
 <text x="668" y="1900">North</text><text x="668" y="1994">South</text><text x="610" y="1948">West</text><text x="723" y="1948">East</text>
 <text x="629" y="1916">NW</text><text x="708" y="1918">NE</text><text x="627" y="1982">SW</text><text x="706" y="1978">SE</text>
</g>

<g id="wcc-7" font-size="13">
 <circle class="c" cx="371.5" cy="1720" r="79"/><circle class="c" cx="371" cy="1722" r="58"/><ellipse class="c" cx="371" cy="1719" rx="38" ry="32"/>
 <text x="373" y="1655">Whoppers</text><text x="371" y="1678">Chips</text><text x="371" y="1716">Chocolates</text>
 <text x="371" y="1809">VII</text>
</g>

<g id="plants-bushes" font-size="13">
 <circle class="c" cx="565" cy="1603" r="48"/><circle class="c" cx="564" cy="1603" r="26"/>
 <text x="567" y="1568" font-size="12.5">Plants</text><text x="564" y="1603">Bushes</text>
 <text x="624" y="1604">or</text>
 <circle class="c" cx="686" cy="1603" r="48"/>
 <text x="689" y="1568" font-size="12.5">Plants</text><text x="687" y="1628">Bushes</text>
 <text x="568" y="1660">IV</text><text x="685" y="1660">V</text>
</g>

<g id="son-6" font-size="11.3">
 <circle class="c" cx="826" cy="1620" r="67.5"/><circle class="c" cx="826" cy="1620" r="49"/><circle class="c" cx="826" cy="1618" r="26.5"/>
 <text x="825" y="1562">Sulphur</text><text x="825" y="1583">Oxygen</text><text x="825" y="1616">Nitrogen</text>
 <text x="826" y="1697" font-size="13">VI</text>
</g>

<g id="mag-bosses" font-size="9.5">
 <circle class="c" cx="516" cy="1734" r="34.5"/><circle class="c" cx="563" cy="1734" r="34.5"/>
 <text x="509" y="1722" transform="rotate(-27 509 1722)">Magistrates</text>
 <text x="573" y="1733">Bosses</text>
 <text x="607" y="1739" font-size="13">or</text>
 <circle class="c" cx="661" cy="1729" r="42"/><circle class="c" cx="661" cy="1731" r="20"/>
 <text x="661" y="1703">Magistrates</text><text x="661" y="1730">Bosses</text>
 <text x="539" y="1780" font-size="13">IV</text><text x="663" y="1781" font-size="13">V</text>
</g>

<g id="queue3" font-size="14">
 <g id="queue3-connectors">
  <path class="ln oa" d="M728,1747 H765"/><path class="ln oa" d="M926,1747 H863"/>
  <path class="tn oa" d="M799,1755 V1738"/><path class="tn oa" d="M811,1755 V1738"/><path class="tn oa" d="M823,1755 V1738"/><path class="tn oa" d="M835,1755 V1738"/>
 </g>
 <text x="744" y="1737">9</text><text x="776" y="1731">10th</text>
 <rect class="c" x="769" y="1740" width="15" height="14"/><text class="lb" x="776.5" y="1747">S</text>
 <rect class="c" x="844" y="1740" width="16" height="15"/><text class="lb" x="852" y="1747.5">R</text>
 <text x="896" y="1737">11</text><text x="851" y="1766">12th</text>
</g>

<g id="compass-big" font-size="14.5">
 <g id="compass-big-connectors">
  <path class="ln oa" d="M871,1847 V1808"/><path class="ln oa" d="M871,1847 V1886"/>
  <path class="ln oa" d="M871,1847 H833"/><path class="ln oa" d="M871,1847 H909"/>
  <path class="tn oa" d="M871,1847 L843,1818"/><path class="tn oa" d="M871,1847 L899,1818"/>
  <path class="tn oa" d="M871,1847 L843,1875"/><path class="tn oa" d="M871,1847 L899,1875"/>
 </g>
 <text x="872" y="1795">North</text><text x="873" y="1898">South</text><text x="806" y="1846">West</text><text x="932" y="1847">East</text>
 <text x="830" y="1814">NW</text><text x="913" y="1815">NE</text><text x="826" y="1880">SW</text><text x="915" y="1878">SE</text>
</g>

<g id="numrow4" font-size="16">
 <g id="numrow4-connectors">
  <path class="ln oa" d="M635,1820 V1808 H668 V1820"/>
  <path class="ln oa" d="M697,1820 V1808 H723 V1820"/>
  <path class="ln oa" d="M749,1858 V1871 H669 V1858"/>
 </g>
 <text class="lb" x="563" y="1831">23</text><text class="lb" x="563" y="1848">W</text>
 <text class="lb" x="599" y="1831">15</text><text class="lb" x="598" y="1848">O</text>
 <text class="lb" x="635" y="1831">18</text><text class="lb" x="634" y="1848">R</text>
 <text class="lb" x="668" y="1831">19</text><text class="lb" x="668" y="1849">S</text>
 <text class="lb" x="698" y="1831">8</text><text class="lb" x="699" y="1848">H</text>
 <text class="lb" x="724" y="1831">9</text><text class="lb" x="724" y="1848">I</text>
 <text class="lb" x="750" y="1831">16</text><text class="lb" x="750" y="1848">P</text>
</g>

<g id="urptsqv" font-size="15">
 <g id="urptsqv-connectors">
  <path class="ln" d="M303,1883 H526"/>
  <path class="ln fa" d="M303,1883 V1852"/><path class="ln fa" d="M340,1883 V1852"/><path class="ln fa" d="M377,1883 V1852"/><path class="ln fa" d="M414,1883 V1852"/><path class="ln fa" d="M452,1883 V1852"/><path class="ln fa" d="M490,1883 V1852"/><path class="ln fa" d="M525,1883 V1852"/>
 </g>
 <text class="lb" x="302" y="1842">U</text><text class="lb" x="340" y="1842">R</text><text class="lb" x="377" y="1842">P</text><text class="lb" x="414" y="1842">T</text><text class="lb" x="451" y="1842">S</text><text class="lb" x="490" y="1842">Q</text><text class="lb" x="526" y="1842">V</text>
</g>
</svg>
